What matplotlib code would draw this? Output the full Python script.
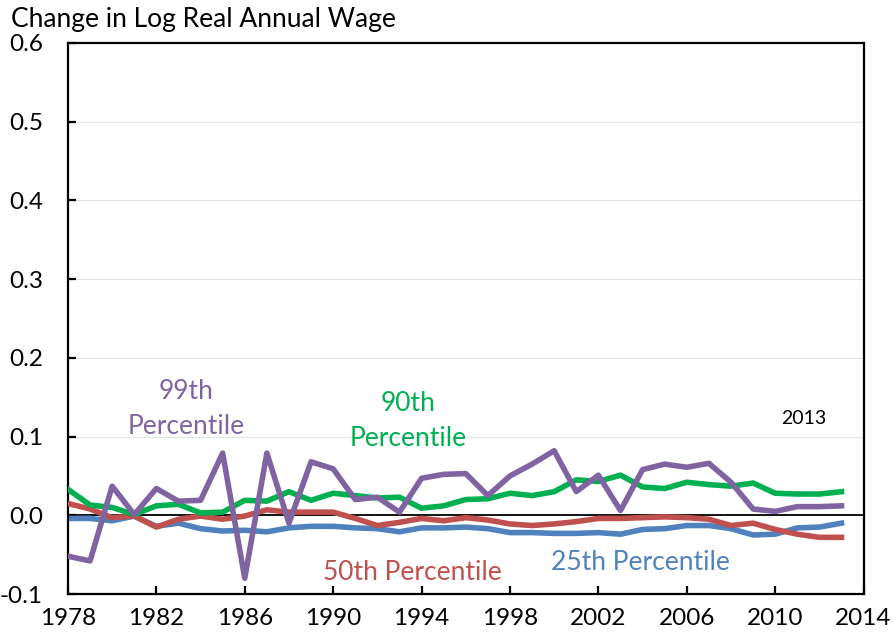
import matplotlib
matplotlib.use("Agg")
import matplotlib.pyplot as plt

plt.rcParams['font.family'] = ['Lato', 'DejaVu Sans']

years = list(range(1978, 2014))

p99 = [-0.052, -0.058, 0.037, 0.001, 0.034, 0.018, 0.019, 0.079, -0.080, 0.079,
       -0.010, 0.068, 0.059, 0.020, 0.023, 0.004, 0.047, 0.052, 0.053, 0.025,
       0.050, 0.065, 0.082, 0.030, 0.051, 0.006, 0.058, 0.065, 0.061, 0.066,
       0.042, 0.008, 0.005, 0.011, 0.011, 0.012]
p90 = [0.033, 0.013, 0.010, 0.001, 0.012, 0.014, 0.003, 0.004, 0.019, 0.018,
       0.030, 0.019, 0.028, 0.025, 0.022, 0.023, 0.009, 0.012, 0.020, 0.021,
       0.028, 0.025, 0.030, 0.045, 0.043, 0.051, 0.036, 0.034, 0.042, 0.039,
       0.037, 0.041, 0.028, 0.027, 0.027, 0.030]
p50 = [0.015, 0.008, -0.003, -0.001, -0.015, -0.005, -0.001, -0.005, -0.001, 0.007,
       0.004, 0.004, 0.004, -0.004, -0.013, -0.009, -0.004, -0.007, -0.003, -0.006,
       -0.011, -0.013, -0.011, -0.008, -0.004, -0.004, -0.003, -0.002, -0.003, -0.005,
       -0.013, -0.010, -0.018, -0.024, -0.028, -0.028]
p25 = [-0.004, -0.004, -0.007, -0.001, -0.014, -0.010, -0.017, -0.020, -0.019, -0.021,
       -0.016, -0.014, -0.014, -0.016, -0.017, -0.021, -0.016, -0.016, -0.015, -0.017,
       -0.022, -0.022, -0.023, -0.023, -0.022, -0.024, -0.018, -0.017, -0.013, -0.013,
       -0.017, -0.025, -0.024, -0.016, -0.015, -0.010]

xticks = list(range(1978, 2015, 4))
yticks = [-0.1, 0.0, 0.1, 0.2, 0.3, 0.4, 0.5, 0.6]
ytick_labels = ["-0.1", "0.0", "0.1", "0.2", "0.3", "0.4", "0.5", "0.6"]

c_blue = "#4F81BD"
c_red = "#C0504D"
c_green = "#00B050"
c_purple = "#8064A2"

fig = plt.figure(figsize=(8.94, 6.37), dpi=100)
ax = fig.add_axes([0.076, 0.0675, 0.890, 0.865])

for v in yticks[2:-1]:
    ax.axhline(v, color="#E3E3E3", lw=0.8, zorder=0)
ax.axhline(0, color="black", lw=1.3, zorder=1)

lw = 4.0
ax.plot(years, p25, color=c_blue, lw=lw, zorder=2)
ax.plot(years, p50, color=c_red, lw=lw, zorder=3)
ax.plot(years, p90, color=c_green, lw=lw, zorder=4)
ax.plot(years, p99, color=c_purple, lw=lw, zorder=5)

ax.set_xlim(1978, 2014)
ax.set_ylim(-0.1, 0.6)
ax.set_xticks(xticks)
ax.set_xticklabels([str(x) for x in xticks])
ax.set_yticks(yticks)
ax.set_yticklabels(ytick_labels)

for s in ax.spines.values():
    s.set_linewidth(1.6)
    s.set_color("black")

ax.tick_params(axis='both', direction='in', length=6, width=1.6, labelsize=17.5)
ax.tick_params(axis='y', pad=18)
ax.tick_params(axis='x', pad=10)
for lab in ax.get_yticklabels():
    lab.set_horizontalalignment('right')

fs = 19
ax.text(1983.33, 0.135, "99th\nPercentile", color=c_purple, fontsize=fs,
        ha='center', va='center', linespacing=1.5)
ax.text(1993.4, 0.12, "90th\nPercentile", color=c_green, fontsize=fs,
        ha='center', va='center', linespacing=1.5)
ax.text(1993.6, -0.0725, "50th Percentile", color=c_red, fontsize=fs,
        ha='center', va='center')
ax.text(2003.9, -0.06, "25th Percentile", color=c_blue, fontsize=fs,
        ha='center', va='center')
ax.text(2011.3, 0.123, "2013", color="black", fontsize=14,
        ha='center', va='center')

fig.text(0.012, 0.97, "Change in Log Real Annual Wage", fontsize=19,
         ha='left', va='center')

fig.savefig("out.png", dpi=100)
